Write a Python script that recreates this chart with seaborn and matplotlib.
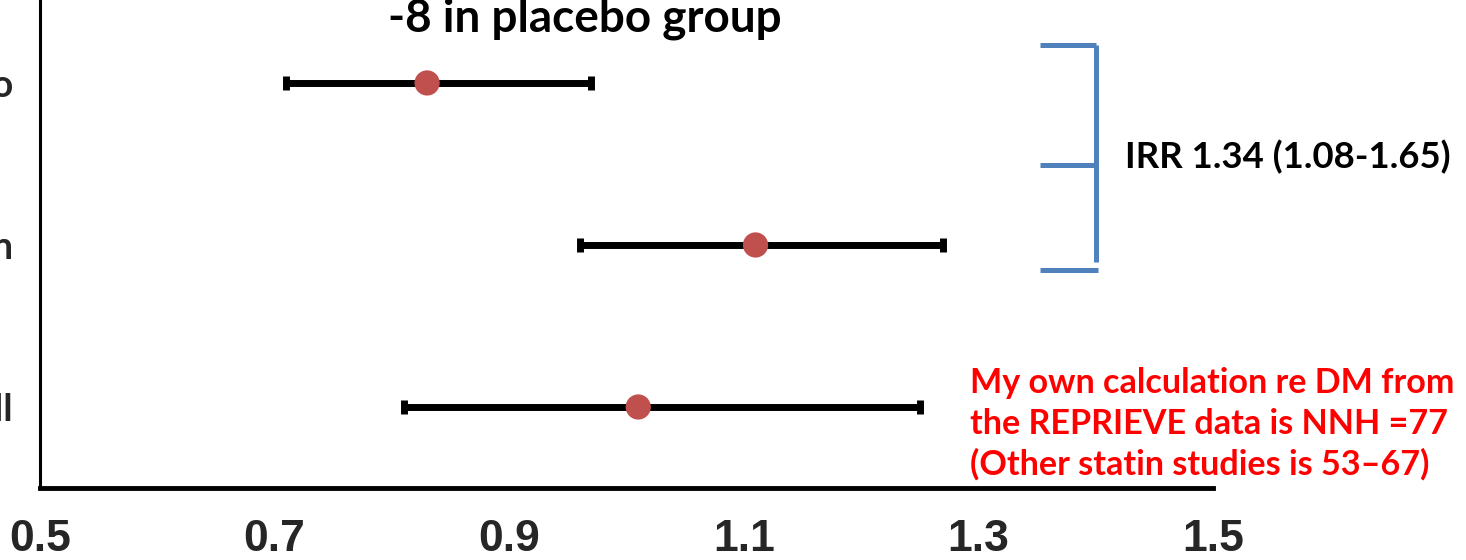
import matplotlib
matplotlib.use("Agg")
import matplotlib.pyplot as plt
import seaborn as sns
import pandas as pd

# ---- data ----
groups = ["Placebo", "Pitavastatin", "Overall"]
estimates = [0.83, 1.11, 1.01]
ci_low = [0.71, 0.96, 0.81]
ci_high = [0.97, 1.27, 1.25]
xticks = [0.5, 0.7, 0.9, 1.1, 1.3, 1.5]

title_text = "-8 in placebo group"
irr_text = "IRR 1.34 (1.08-1.65)"
note_lines = ["My own calculation re DM from",
              "the REPRIEVE data is NNH =77",
              "(Other statin studies is 53\u201367)"]

sns.set_style("white")
plt.rcParams["font.family"] = ["Lato", "DejaVu Sans"]

W, H = 1466, 560
fig = plt.figure(figsize=(W / 100, H / 100), dpi=100)
ax = fig.add_axes([40 / W, 72 / H, (1213 - 40) / W, 488 / H])

df = pd.DataFrame({"group": groups, "pos": range(len(groups)),
                   "est": estimates, "lo": ci_low, "hi": ci_high})

ax.errorbar(df["est"], df["pos"],
            xerr=[df["est"] - df["lo"], df["hi"] - df["est"]],
            fmt="none", ecolor="black", elinewidth=5, capsize=5, capthick=5,
            zorder=2)
sns.scatterplot(data=df, x="est", y="pos", ax=ax, color="#C0504D", s=330,
                edgecolor="none", zorder=3, legend=False)

ax.set_xlim(0.5, 1.5)
ax.set_ylim(2.5, -0.512)
ax.set_xticks(xticks)
ax.set_xticklabels([f"{t:.1f}" for t in xticks], fontsize=32, fontweight="bold",
                   family="Liberation Sans")
ax.set_yticks(df["pos"])
ax.set_yticklabels(groups, fontsize=27, fontweight="bold")
ax.tick_params(axis="x", length=0, pad=22)
ax.tick_params(axis="y", length=0, pad=19)
ax.set_xlabel("")
ax.set_ylabel("")
for s in ["top", "right"]:
    ax.spines[s].set_visible(False)
ax.spines["left"].set_linewidth(2.2)
ax.spines["bottom"].set_linewidth(3.5)
ax.spines["left"].set_color("black")
ax.spines["bottom"].set_color("black")

# bracket (data coordinates)
blue = "#4F81BD"
bx0, bx1 = 1.3525, 1.4
by_top, by_mid, by_bot = -0.235, 0.506, 1.154
kw = dict(color=blue, lw=3.6, solid_capstyle="butt", clip_on=False, zorder=4)
ax.plot([bx0, bx1], [by_top, by_top], **kw)
ax.plot([bx0, bx1], [by_mid, by_mid], **kw)
ax.plot([bx0, bx1 + 0.002], [by_bot, by_bot], **kw)
ax.plot([bx1, bx1], [by_top, by_bot - 0.05], **kw)

fig.text(585 / W, 1 - 32 / H, title_text, ha="center", va="baseline",
         fontsize=33, fontweight="bold", color="black")
fig.text(1125 / W, 1 - 168 / H, irr_text, ha="left", va="baseline",
         fontsize=26.3, fontweight="bold", color="black")
for i, line in enumerate(note_lines):
    fig.text(970 / W, 1 - (393 + 41 * i) / H, line, ha="left", va="baseline",
             fontsize=24.6, fontweight="bold", color="#FF0000")

fig.savefig("out.png", dpi=100)
